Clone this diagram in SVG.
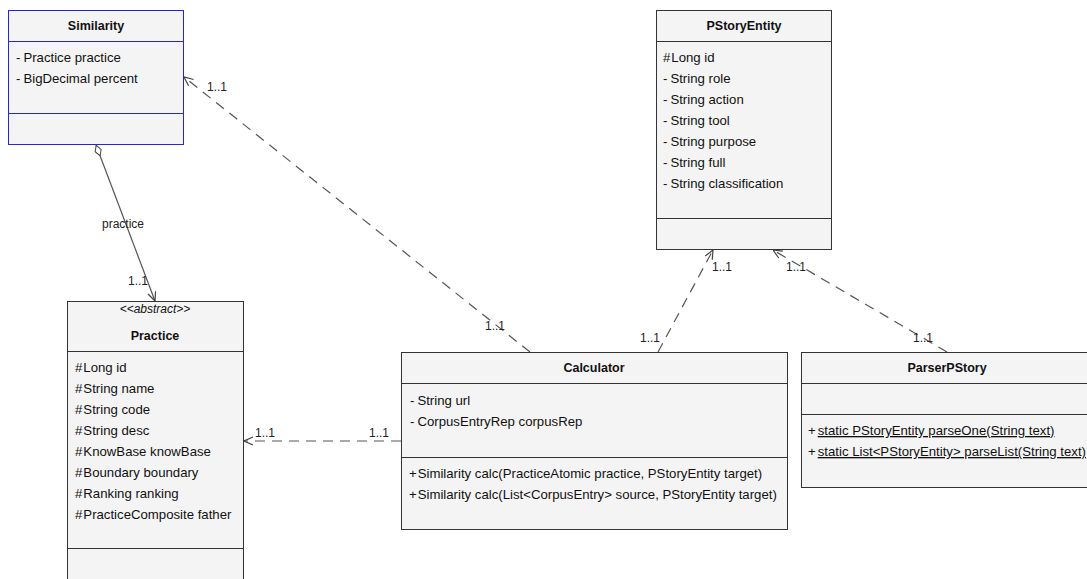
<svg xmlns="http://www.w3.org/2000/svg" width="1087" height="579" viewBox="0 0 1087 579">
<style>
.box{fill:#f4f4f4;stroke:#333;stroke-width:1}
.blue{fill:#f4f4f4;stroke:#2626d9;stroke-width:1}
.div{stroke:#333;stroke-width:1}
.divb{stroke:#2626d9;stroke-width:1}
text{font-family:"Liberation Sans",Arial,sans-serif;fill:#111}
.t{font-size:12.5px;font-weight:bold;text-anchor:middle}
.st{font-size:12px;font-style:italic;text-anchor:middle}
.a{font-size:13.2px}
.u{text-decoration:underline}
.lbl{font-size:12px;fill:#222}
.dash{fill:none;stroke:#555;stroke-width:1.2;stroke-dasharray:10,7}
.solid{fill:none;stroke:#555;stroke-width:1.2}
</style>
<defs>
<marker id="arr" viewBox="0 0 10 10" refX="10" refY="5" markerWidth="10" markerHeight="10" markerUnits="userSpaceOnUse" orient="auto">
<path d="M1,1 L10,5 L1,9" fill="none" stroke="#444" stroke-width="1.2"/>
</marker>
<marker id="dia" viewBox="0 0 12 8" refX="0" refY="4" markerWidth="12" markerHeight="8" markerUnits="userSpaceOnUse" orient="auto">
<path d="M0.5,4 L6,0.8 L11.5,4 L6,7.2 Z" fill="#fff" stroke="#444" stroke-width="1"/>
</marker>
</defs>

<g id="connectors">
<line class="solid" x1="96" y1="145" x2="155" y2="301" marker-start="url(#dia)" marker-end="url(#arr)"/>
<text class="lbl" x="102" y="228">practice</text>
<text class="lbl" x="128" y="285">1..1</text>

<line class="dash" x1="530" y1="352" x2="184" y2="77" marker-end="url(#arr)"/>
<text class="lbl" x="207" y="91">1..1</text>
<text class="lbl" x="485" y="330">1..1</text>

<line class="dash" x1="658" y1="352" x2="713" y2="250" marker-end="url(#arr)"/>
<text class="lbl" x="712" y="271">1..1</text>
<text class="lbl" x="640" y="342">1..1</text>

<line class="dash" x1="947" y1="352" x2="773" y2="250" marker-end="url(#arr)"/>
<text class="lbl" x="786" y="271">1..1</text>
<text class="lbl" x="913" y="342">1..1</text>

<line class="dash" x1="401" y1="441" x2="244" y2="441" marker-end="url(#arr)"/>
<text class="lbl" x="255" y="437">1..1</text>
<text class="lbl" x="369" y="437">1..1</text>
</g>

<g id="Similarity">
<rect class="blue" x="8.5" y="10.5" width="175" height="134"/>
<line class="divb" x1="8.5" y1="41.5" x2="183.5" y2="41.5"/>
<line class="divb" x1="8.5" y1="113.5" x2="183.5" y2="113.5"/>
<text class="t" x="96" y="30">Similarity</text>
<text class="a" x="16" y="62">-<tspan dx="3">Practice practice</tspan></text>
<text class="a" x="16" y="83">-<tspan dx="3">BigDecimal percent</tspan></text>
</g>

<g id="PStoryEntity">
<rect class="box" x="656.5" y="10.5" width="175" height="239"/>
<line class="div" x1="656.5" y1="41.5" x2="831.5" y2="41.5"/>
<line class="div" x1="656.5" y1="218.5" x2="831.5" y2="218.5"/>
<text class="t" x="744" y="30">PStoryEntity</text>
<text class="a" x="663" y="62">#<tspan dx="1">Long id</tspan></text>
<text class="a" x="663" y="83">-<tspan dx="3">String role</tspan></text>
<text class="a" x="663" y="104">-<tspan dx="3">String action</tspan></text>
<text class="a" x="663" y="125">-<tspan dx="3">String tool</tspan></text>
<text class="a" x="663" y="146">-<tspan dx="3">String purpose</tspan></text>
<text class="a" x="663" y="167">-<tspan dx="3">String full</tspan></text>
<text class="a" x="663" y="188">-<tspan dx="3">String classification</tspan></text>
</g>

<g id="Practice">
<rect class="box" x="67.5" y="301.5" width="176" height="300"/>
<line class="div" x1="67.5" y1="351.5" x2="243.5" y2="351.5"/>
<line class="div" x1="67.5" y1="548.5" x2="243.5" y2="548.5"/>
<text class="st" x="155" y="313">&lt;&lt;abstract&gt;&gt;</text>
<text class="t" x="155" y="340">Practice</text>
<text class="a" x="75" y="372">#<tspan dx="1">Long id</tspan></text>
<text class="a" x="75" y="393">#<tspan dx="1">String name</tspan></text>
<text class="a" x="75" y="414">#<tspan dx="1">String code</tspan></text>
<text class="a" x="75" y="435">#<tspan dx="1">String desc</tspan></text>
<text class="a" x="75" y="456">#<tspan dx="1">KnowBase knowBase</tspan></text>
<text class="a" x="75" y="477">#<tspan dx="1">Boundary boundary</tspan></text>
<text class="a" x="75" y="498">#<tspan dx="1">Ranking ranking</tspan></text>
<text class="a" x="75" y="519">#<tspan dx="1">PracticeComposite father</tspan></text>
</g>

<g id="Calculator">
<rect class="box" x="401.5" y="352.5" width="386" height="177"/>
<line class="div" x1="401.5" y1="383.5" x2="787.5" y2="383.5"/>
<line class="div" x1="401.5" y1="457.5" x2="787.5" y2="457.5"/>
<text class="t" x="594" y="372">Calculator</text>
<text class="a" x="410" y="405">-<tspan dx="3">String url</tspan></text>
<text class="a" x="410" y="426">-<tspan dx="3">CorpusEntryRep corpusRep</tspan></text>
<text class="a" x="409" y="478">+<tspan dx="1">Similarity calc(PracticeAtomic practice, PStoryEntity target)</tspan></text>
<text class="a" x="409" y="499">+<tspan dx="1">Similarity calc(List&lt;CorpusEntry&gt; source, PStoryEntity target)</tspan></text>
</g>

<g id="ParserPStory">
<rect class="box" x="801.5" y="352.5" width="300" height="135"/>
<line class="div" x1="801.5" y1="383.5" x2="1101.5" y2="383.5"/>
<line class="div" x1="801.5" y1="414.5" x2="1101.5" y2="414.5"/>
<text class="t" x="947" y="372">ParserPStory</text>
<text class="a" x="808" y="435">+<tspan class="u" dx="2">static PStoryEntity parseOne(String text)</tspan></text>
<text class="a" x="808" y="456">+<tspan class="u" dx="2">static List&lt;PStoryEntity&gt; parseList(String text)</tspan></text>
</g>
</svg>
